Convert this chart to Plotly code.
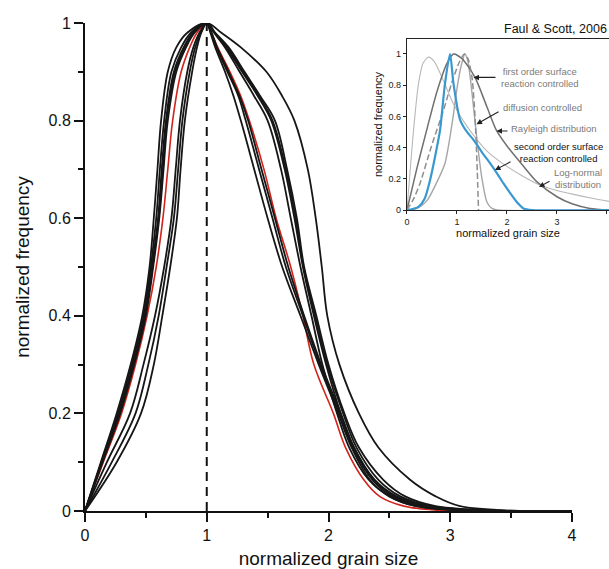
import plotly.graph_objects as go

FONT = "Liberation Sans, Arial, Helvetica, sans-serif"

# ---- main panel: every curve is a rising branch + a falling branch ----
# x position of each curve read at these y levels
rise_levels = [0, 0.1, 0.2, 0.3, 0.4, 0.5, 0.6, 0.7, 0.8, 0.9, 0.95, 0.98]
fall_levels = [1.0, 0.98, 0.95, 0.9, 0.85, 0.8, 0.7, 0.6, 0.5, 0.4, 0.3, 0.2,
               0.13, 0.064, 0.03, 0.01, 0.0, 0.0]

rise_w = [0, 0.13, 0.26, 0.375, 0.47, 0.53, 0.565, 0.595, 0.625, 0.68, 0.75, 0.84]
rise_b1 = [0, 0.135, 0.27, 0.385, 0.48, 0.54, 0.585, 0.615, 0.65, 0.71, 0.79, 0.87]
rise_b2 = [0, 0.14, 0.28, 0.395, 0.49, 0.55, 0.60, 0.63, 0.665, 0.73, 0.81, 0.885]
rise_b3 = [0, 0.145, 0.29, 0.405, 0.50, 0.56, 0.61, 0.645, 0.68, 0.75, 0.83, 0.90]
rise_b4 = [0, 0.14, 0.285, 0.40, 0.495, 0.555, 0.605, 0.64, 0.67, 0.74, 0.82, 0.89]
rise_r1 = [0, 0.18, 0.37, 0.48, 0.575, 0.65, 0.71, 0.745, 0.78, 0.84, 0.89, 0.94]
rise_r2 = [0, 0.22, 0.415, 0.52, 0.605, 0.67, 0.73, 0.765, 0.80, 0.86, 0.905, 0.95]
rise_r3 = [0, 0.26, 0.46, 0.565, 0.635, 0.70, 0.755, 0.785, 0.82, 0.88, 0.92, 0.955]
rise_red = [0, 0.15, 0.30, 0.415, 0.51, 0.585, 0.64, 0.68, 0.72, 0.79, 0.86, 0.92]

fall_w = [1.0, 1.12, 1.28, 1.49, 1.62, 1.72, 1.83, 1.895, 1.945, 1.99, 2.09, 2.25, 2.41, 2.67, 2.88, 3.08, 3.6, 4.0]
fall_a = [1.0, 1.03, 1.07, 1.15, 1.22, 1.28, 1.39, 1.50, 1.62, 1.77, 1.92, 2.08, 2.19, 2.34, 2.50, 2.72, 3.2, 4.0]
fall_b = [1.0, 1.035, 1.08, 1.17, 1.26, 1.32, 1.43, 1.54, 1.65, 1.79, 1.93, 2.09, 2.20, 2.36, 2.52, 2.75, 3.3, 4.0]
fall_c = [1.0, 1.04, 1.085, 1.18, 1.27, 1.34, 1.45, 1.56, 1.67, 1.80, 1.94, 2.10, 2.21, 2.37, 2.54, 2.77, 3.3, 4.0]
fall_m1 = [1.0, 1.06, 1.15, 1.27, 1.39, 1.50, 1.61, 1.69, 1.77, 1.86, 1.95, 2.07, 2.17, 2.33, 2.50, 2.72, 3.3, 4.0]
fall_m2 = [1.0, 1.065, 1.16, 1.29, 1.42, 1.53, 1.64, 1.72, 1.79, 1.88, 1.98, 2.10, 2.21, 2.38, 2.56, 2.80, 3.4, 4.0]
fall_m3 = [1.0, 1.07, 1.18, 1.31, 1.44, 1.56, 1.66, 1.74, 1.80, 1.90, 2.00, 2.13, 2.25, 2.45, 2.63, 2.88, 3.5, 4.0]
fall_m4 = [1.0, 1.065, 1.17, 1.30, 1.43, 1.54, 1.65, 1.73, 1.795, 1.89, 1.99, 2.12, 2.23, 2.41, 2.59, 2.84, 3.45, 4.0]
fall_red = [1.0, 1.04, 1.09, 1.19, 1.28, 1.35, 1.47, 1.57, 1.69, 1.79, 1.88, 2.04, 2.14, 2.29, 2.42, 2.62, 3.0, 4.0]

black_curves = [(rise_w, fall_w), (rise_b1, fall_m1), (rise_b2, fall_m2),
                (rise_b3, fall_m3), (rise_b4, fall_m4), (rise_r1, fall_a),
                (rise_r2, fall_b), (rise_r3, fall_c)]

mode_x = [1, 1]
mode_y = [0, 1]

# ---- inset (Faul & Scott, 2006) ----
lognorm_x = [0, 0.05, 0.13, 0.23, 0.32, 0.43, 0.55, 0.7, 0.93, 1.15, 1.33, 1.59, 1.86, 2.3, 2.66, 3.0, 3.33, 3.7, 4.04]
lognorm_y = [0, 0.2, 0.51, 0.81, 0.94, 0.98, 0.95, 0.85, 0.68, 0.56, 0.48, 0.38, 0.31, 0.22, 0.16, 0.125, 0.1, 0.075, 0.055]
first_x = [0, 0.2, 0.4, 0.6, 0.76, 0.9, 1.0, 1.08, 1.16, 1.22, 1.3, 1.4, 1.5, 1.6, 1.7, 1.8, 4.04]
first_y = [0, 0.01, 0.06, 0.18, 0.3, 0.55, 0.78, 0.92, 1.0, 0.95, 0.75, 0.45, 0.2, 0.05, 0.01, 0, 0]
rayl_x = [0, 0.2, 0.4, 0.6, 0.8, 0.93, 1.1, 1.36, 1.6, 1.79, 2.0, 2.33, 2.6, 3.0, 3.3, 3.66, 4.04]
rayl_y = [0, 0.27, 0.52, 0.76, 0.94, 1.0, 0.97, 0.85, 0.66, 0.51, 0.41, 0.28, 0.18, 0.085, 0.04, 0.01, 0.0]
diff_x = [0, 0.13, 0.26, 0.49, 0.73, 0.9, 1.05, 1.15, 1.22, 1.3, 1.36, 1.4, 1.43]
diff_y = [0, 0.07, 0.17, 0.41, 0.64, 0.82, 0.95, 1.0, 0.97, 0.85, 0.6, 0.3, 0.0]
second_x = [0, 0.1, 0.23, 0.35, 0.46, 0.56, 0.66, 0.76, 0.86, 0.93, 1.06, 1.2, 1.33, 1.5, 1.66, 1.79, 1.93, 2.06, 2.2, 2.33, 2.5, 4.04]
second_y = [0, 0.005, 0.02, 0.07, 0.19, 0.34, 0.51, 0.81, 1.0, 0.81, 0.58, 0.5, 0.45, 0.37, 0.30, 0.24, 0.17, 0.11, 0.05, 0.01, 0, 0]

# label text and its left anchor (x, y) in inset units
inset_labels = [
    ("first order surface<br>reaction controlled", 1.84, 0.85, "#7a7a7a"),
    ("diffusion controlled", 1.88, 0.654, "#7a7a7a"),
    ("Rayleigh distribution", 2.04, 0.52, "#7a7a7a"),
    ("second order surface<br>reaction controlled", 2.10, 0.37, "#111111"),
    ("Log-normal<br>distribution", 2.90, 0.20, "#7a7a7a"),
]
# arrow tip (x, y) and tail (x, y)
inset_arrows = [
    (1.33, 0.85, 1.80, 0.85),
    (1.39, 0.55, 1.86, 0.635),
    (1.79, 0.506, 2.04, 0.506),
    (1.76, 0.256, 2.10, 0.314),
    (2.64, 0.147, 2.88, 0.19),
]

fig = go.Figure()

fig.add_trace(go.Scatter(x=rise_red + fall_red, y=rise_levels + fall_levels,
                         mode="lines", line=dict(color="#d0241c", width=1.6, shape="spline", smoothing=1),
                         showlegend=False, hoverinfo="skip"))
for rise, fall in black_curves:
    fig.add_trace(go.Scatter(x=rise + fall, y=rise_levels + fall_levels,
                             mode="lines", line=dict(color="#161616", width=1.8, shape="spline", smoothing=1),
                             showlegend=False, hoverinfo="skip"))
fig.add_trace(go.Scatter(x=mode_x, y=mode_y, mode="lines",
                         line=dict(color="#111111", width=2, dash="9px,6px"),
                         showlegend=False, hoverinfo="skip"))

inset_style = [
    (lognorm_x, lognorm_y, dict(color="#b8b8b8", width=1.1)),
    (first_x, first_y, dict(color="#a6a6a6", width=1.4)),
    (rayl_x, rayl_y, dict(color="#707070", width=1.5)),
    (diff_x, diff_y, dict(color="#8e8e8e", width=1.5, dash="6px,3px")),
    (second_x, second_y, dict(color="#3a97d0", width=2.2)),
]
for xs, ys, ln in inset_style:
    ln = dict(ln, shape="spline", smoothing=0.7)
    fig.add_trace(go.Scatter(x=xs, y=ys, mode="lines", line=ln, xaxis="x2", yaxis="y2",
                             showlegend=False, hoverinfo="skip"))

for text, tx, ty, col in inset_labels:
    fig.add_annotation(x=tx, y=ty, xref="x2", yref="y2", text=text, showarrow=False,
                       xanchor="left", yanchor="middle", align="center",
                       font=dict(family=FONT, size=9.5, color=col))
for hx, hy, tx, ty in inset_arrows:
    fig.add_annotation(x=hx, y=hy, ax=tx, ay=ty, xref="x2", yref="y2", axref="x2", ayref="y2",
                       text="", showarrow=True, arrowhead=2, arrowsize=1, arrowwidth=1.1,
                       arrowcolor="#222222")
fig.add_annotation(x=1.0, y=1.0, xref="x2 domain", yref="y2 domain", text="Faul & Scott, 2006",
                   showarrow=False, xanchor="right", yanchor="bottom", yshift=1,
                   font=dict(family=FONT, size=12.5, color="#111111"))

axis_main = dict(showline=True, linecolor="#111111", linewidth=2, ticks="outside", ticklen=9,
                 tickwidth=2, tickcolor="#111111", showgrid=False, zeroline=False, automargin=False,
                 tickfont=dict(family=FONT, size=16, color="#111111"))
axis_inset = dict(showline=True, linecolor="#222222", linewidth=1.3, ticks="outside", ticklen=3,
                  tickwidth=1, tickcolor="#222222", showgrid=False, zeroline=False, automargin=False,
                  tickfont=dict(family=FONT, size=9, color="#222222"))

fig.update_layout(
    width=609, height=569,
    margin=dict(l=85, r=0, t=23, b=58, autoexpand=False),
    paper_bgcolor="white", plot_bgcolor="white",
    xaxis=dict(axis_main, domain=[0, 0.9294], range=[0, 4], dtick=1,
               minor=dict(dtick=0.5, ticks="outside", ticklen=5, tickwidth=2, tickcolor="#111111"),
               title=dict(text="normalized grain size", font=dict(family=FONT, size=19, color="#111111"),
                          standoff=8)),
    yaxis=dict(axis_main, range=[0, 1], dtick=0.2,
               minor=dict(dtick=0.1, ticks="outside", ticklen=5, tickwidth=2, tickcolor="#111111"),
               title=dict(text="normalized frequency", font=dict(family=FONT, size=19, color="#111111"),
                          standoff=14)),
    xaxis2=dict(axis_inset, domain=[0.6145, 1.0], range=[0, 4.04], anchor="y2", mirror=True,
                tickvals=[0, 1, 2, 3, 4],
                title=dict(text="normalized grain size", font=dict(family=FONT, size=11, color="#111111"),
                           standoff=3)),
    yaxis2=dict(axis_inset, domain=[0.6168, 0.9672], range=[0, 1.096], anchor="x2",
                tickvals=[0, 0.2, 0.4, 0.6, 0.8, 1],
                title=dict(text="normalized frequency", font=dict(family=FONT, size=11, color="#111111"),
                           standoff=3)),
)

# the page body has a default 8px margin; drop it so the figure fills the window
fig.write_html("out.html", config={"displayModeBar": False},
               post_script="document.body.style.margin='0px';document.body.style.overflow='hidden';")
